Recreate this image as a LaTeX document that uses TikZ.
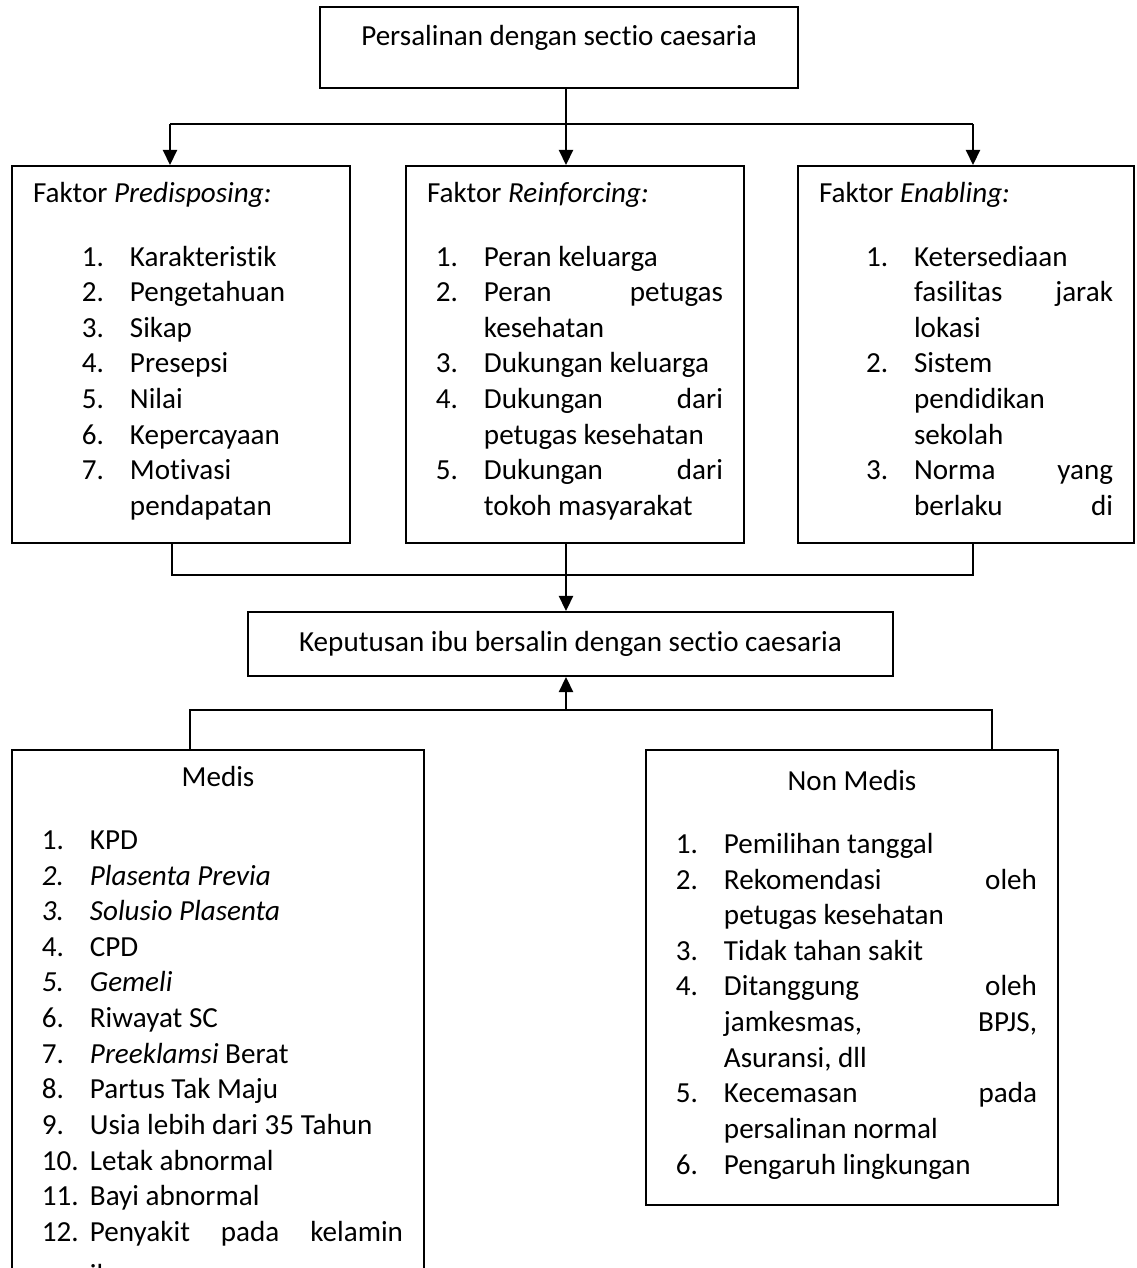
\documentclass[tikz,border=0pt]{standalone}
\usepackage{fontspec}
\setmainfont{Carlito}[Ligatures=NoCommon]
\usetikzlibrary{arrows.meta, positioning}

% list lines: number column + item text
\newcommand{\itm}[3][3.7pt]{\hspace*{#1}\makebox[19.8pt][l]{#2}#3}
\newcommand{\cnt}[2][3.7pt]{\hspace*{\dimexpr #1+19.8pt\relax}#2}

\begin{document}
\begin{tikzpicture}[
    x=0.4124pt, y=-0.4124pt,
    font=\fontsize{12pt}{14.7pt}\selectfont,
    box/.style={
        draw=black, line width=0.8pt,
        inner xsep=8.66pt, inner ysep=0pt
    },
    listbox/.style={box, align=flush left},
    arr/.style={-{Triangle[length=6.2pt, width=5.8pt]}, line width=0.8pt},
    link/.style={line width=0.8pt},
]
\useasboundingbox (0,0) rectangle (1136,1268);

% Top box
\node[box, minimum width=197.1pt, minimum height=33.4pt,
      text height=7.7pt, text depth=8.95pt] (persalinan) at (559,47.5)
    {Persalinan dengan sectio caesaria};

% Predisposing factors (left)
\node[listbox, text width=122.07pt, minimum height=155.5pt] (pre) at (181,354.5)
    {Faktor \textit{Predisposing:}\\[11.3pt]
     \itm[20.2pt]{1.}{Karakteristik}\\
     \itm[20.2pt]{2.}{Pengetahuan}\\
     \itm[20.2pt]{3.}{Sikap}\\
     \itm[20.2pt]{4.}{Presepsi}\\
     \itm[20.2pt]{5.}{Nilai}\\
     \itm[20.2pt]{6.}{Kepercayaan}\\
     \itm[20.2pt]{7.}{Motivasi}\\
     \cnt[20.2pt]{pendapatan}\strut};

% Reinforcing factors (middle)
\node[listbox, text width=122.07pt, minimum height=155.5pt] (reinf) at (575,354.5)
    {Faktor \textit{Reinforcing:}\\[11.3pt]
     \itm{1.}{Peran keluarga}\\
     \itm{2.}{Peran\hfill petugas}\\
     \cnt{kesehatan}\\
     \itm{3.}{Dukungan keluarga}\\
     \itm{4.}{Dukungan\hfill dari}\\
     \cnt{petugas kesehatan}\\
     \itm{5.}{Dukungan\hfill dari}\\
     \cnt{tokoh masyarakat}\strut};

% Enabling factors (right)
\node[listbox, text width=121.25pt, minimum height=155.5pt] (enab) at (966,354.5)
    {Faktor \textit{Enabling:}\\[11.3pt]
     \itm[19.4pt]{1.}{Ketersediaan}\\
     \cnt[19.4pt]{fasilitas\hfill jarak}\\
     \cnt[19.4pt]{lokasi}\\
     \itm[19.4pt]{2.}{Sistem}\\
     \cnt[19.4pt]{pendidikan}\\
     \cnt[19.4pt]{sekolah}\\
     \itm[19.4pt]{3.}{Norma\hfill yang}\\
     \cnt[19.4pt]{berlaku\hfill di\strut}};

% Decision box
\node[box, minimum width=266pt, minimum height=26.4pt] (keputusan) at (570.5,644)
    {Keputusan ibu bersalin dengan sectio caesaria};

% Medical reasons (bottom left)
\node[listbox, text width=152.6pt, minimum height=231.5pt] (medis) at (218,1030.6)
    {\hfill Medis\hfill\null\\[11.3pt]
     \itm{1.}{KPD}\\
     \itm{\textit{2.}}{\textit{Plasenta Previa}}\\
     \itm{\textit{3.}}{\textit{Solusio Plasenta}}\\
     \itm{4.}{CPD}\\
     \itm{\textit{5.}}{\textit{Gemeli}}\\
     \itm{6.}{Riwayat SC}\\
     \itm{7.}{\textit{Preeklamsi} Berat}\\
     \itm{8.}{Partus Tak Maju}\\
     \itm{9.}{Usia lebih dari 35 Tahun}\\
     \itm{10.}{Letak abnormal}\\
     \itm{11.}{Bayi abnormal}\\
     \itm{12.}{Penyakit\hfill pada\hfill kelamin}\\[3pt]
     \cnt{ibu}\strut};

% Non-medical reasons (bottom right)
\node[listbox, text width=152.6pt, minimum height=187.6pt] (nonmedis) at (852,977.5)
    {\hfill Non Medis\hfill\null\\[11.3pt]
     \itm{1.}{Pemilihan tanggal}\\
     \itm{2.}{Rekomendasi\hfill oleh}\\
     \cnt{petugas kesehatan}\\
     \itm{3.}{Tidak tahan sakit}\\
     \itm{4.}{Ditanggung\hfill oleh}\\
     \cnt{jamkesmas,\hfill BPJS,}\\
     \cnt{Asuransi, dll}\\
     \itm{5.}{Kecemasan\hfill pada}\\
     \cnt{persalinan normal}\\
     \itm{6.}{Pengaruh lingkungan}\strut};

% Branch points
\coordinate (jtop) at (566,124);
\coordinate (jl) at (170,124);
\coordinate (jr) at (973,124);
\coordinate (kl) at (172,575);
\coordinate (km) at (566,575);
\coordinate (kr) at (973,575);
\coordinate (ml) at (190,710);
\coordinate (mm) at (566,710);
\coordinate (mr) at (992,710);

% Top box to the three factors
\draw[link] (jtop |- persalinan.south) -- (jtop);
\draw[link] (jl) -- (jr);
\draw[arr] (jtop) -- (jtop |- reinf.north);
\draw[arr] (jl) -- (jl |- pre.north);
\draw[arr] (jr) -- (jr |- enab.north);

% Factors join into the decision
\draw[link] (kl |- pre.south) -- (kl) -- (kr) -- (kr |- enab.south);
\draw[arr] (km |- reinf.south) -- (km |- keputusan.north);

% Medical / non-medical reasons up to the decision
\draw[link] (ml |- medis.north) -- (ml) -- (mr) -- (mr |- nonmedis.north);
\draw[arr] (mm) -- (mm |- keputusan.south);

\end{tikzpicture}
\end{document}
